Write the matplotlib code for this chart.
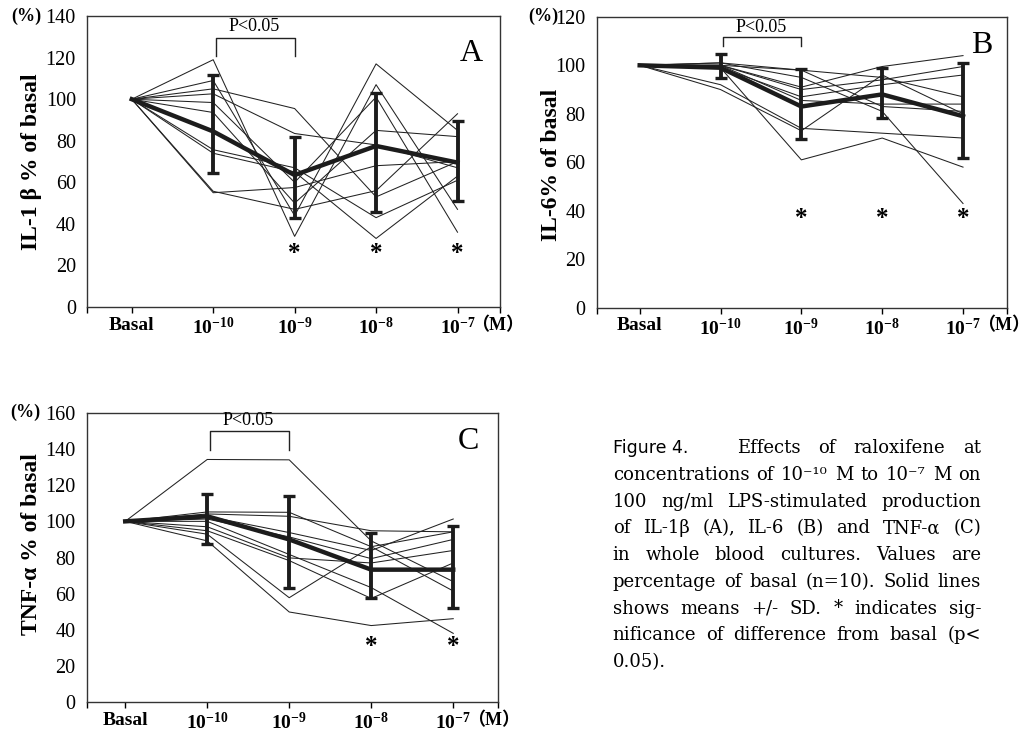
import matplotlib
matplotlib.use('Agg')
import matplotlib.pyplot as plt

plt.rcParams['font.family'] = ['Liberation Serif', 'Noto Sans CJK JP']
plt.rcParams['mathtext.fontset'] = 'custom'
plt.rcParams['mathtext.rm'] = 'Liberation Serif'
plt.rcParams['mathtext.bf'] = 'Liberation Serif:bold'
plt.rcParams['mathtext.it'] = 'Liberation Serif:italic'

doses = ['Basal', r'$\mathbf{10^{-10}}$', r'$\mathbf{10^{-9}}$',
         r'$\mathbf{10^{-8}}$', r'$\mathbf{10^{-7}}$']

# A: IL-1 beta, % of basal, one row per subject
il1_lines = [
    [100, 119, 34, 107, 47],
    [100, 109, 44, 117, 85],
    [100, 105, 95.5, 53, 70],
    [100, 102.6, 83.5, 78, 67],
    [100, 98.4, 60, 101, 36],
    [100, 93.6, 50, 85, 82],
    [100, 75.7, 67, 43, 61],
    [100, 74, 65, 33, 63],
    [100, 55.7, 47, 56, 93],
    [100, 55, 57.5, 68, 70],
]
il1_mean = [100, 84.5, 63.5, 77.5, 69.5]
il1_sd_top = [111.7, 81.6, 103.2, 89.3]
il1_sd_bot = [64.5, 42.9, 45.8, 50.9]

# B: IL-6
il6_lines = [
    [100, 99, 61, 70, 58],
    [100, 92, 74, 72, 70],
    [100, 90, 73, 96, 80],
    [100, 101, 98, 95, 87],
    [100, 101, 95, 81, 43],
    [100, 100, 91, 99.5, 104],
    [100, 100, 90, 94, 99.5],
    [100, 99, 87, 92, 96],
    [100, 100, 85.5, 84, 84],
    [100, 100, 98, 83, 81],
]
il6_mean = [100, 99, 83, 88, 79]
il6_sd_top = [104.5, 98.4, 99, 101]
il6_sd_bot = [94.9, 69.5, 78.2, 61.7]

# C: TNF-alpha
tnf_lines = [
    [100, 134.2, 134, 89.2, 66.7],
    [100, 105.2, 105, 86, 61.5],
    [100, 104.1, 102.8, 94.8, 94.2],
    [100, 102.8, 93.8, 83.9, 101.3],
    [100, 101.3, 91.4, 79.4, 90],
    [100, 100, 81.7, 63.4, 38.1],
    [100, 97, 79.8, 77, 83.9],
    [100, 94.8, 78.3, 57.4, 77],
    [100, 92.9, 57.8, 86, 94.2],
    [100, 89.2, 49.9, 42.4, 46.2],
]
tnf_mean = [100, 102.8, 90, 73.3, 73.3]
tnf_sd_top = [115.3, 113.8, 93.8, 97.6]
tnf_sd_bot = [87.3, 63, 57.9, 52.3]

caption_head = 'Effects of raloxifene at'
caption = [
    'concentrations of 10\u207b\u00b9\u2070 M to 10\u207b\u2077 M on',
    '100 ng/ml LPS-stimulated production',
    'of IL-1\u03b2 (A), IL-6 (B) and TNF-\u03b1 (C)',
    'in whole blood cultures. Values are',
    'percentage of basal (n=10). Solid lines',
    'shows means +/- SD. * indicates sig-',
    'nificance of difference from basal (p<',
    '0.05).',
]

ink = '#1c1c1c'
W, H = 1022, 731


def draw_panel(ax, lines, mean, sd_top, sd_bot, ymax, xlim, ylabel, letter,
               stars, star_y, br, lab_x, lab_y, pct_x, letter_pos):
    x = list(range(len(doses)))
    for vals in lines:
        ax.plot(x, vals, color='#222222', lw=0.75)
    ax.plot(x, mean, color=ink, lw=3.2)
    lo = [m - b for m, b in zip(mean[1:], sd_bot)]
    hi = [t - m for m, t in zip(mean[1:], sd_top)]
    ax.errorbar(x[1:], mean[1:], yerr=[lo, hi], fmt='none', ecolor=ink,
                elinewidth=2.8, capsize=4.5, capthick=2.4)

    ax.set_xlim(*xlim)
    ax.set_ylim(0, ymax)
    ax.set_yticks(range(0, ymax + 1, 20))
    ax.set_xticks(x)
    ax.set_xticklabels(doses, fontsize=14, fontweight='bold')
    ax.set_xticks(list(xlim), minor=True)
    ax.tick_params(axis='y', length=0, pad=8, labelsize=14.5)
    ax.tick_params(axis='x', which='both', direction='out', length=4,
                   width=1, pad=3)
    for sp in ax.spines.values():
        sp.set_color('#333333')
        sp.set_linewidth(1)

    ax.set_ylabel(ylabel, fontsize=17, fontweight='bold')
    ax.yaxis.set_label_coords(lab_x, lab_y)
    ax.text(pct_x, 1.0, '(%)', transform=ax.transAxes, ha='right',
            va='center', fontsize=13, fontweight='bold')
    ax.text(letter_pos[0], letter_pos[1], letter, transform=ax.transAxes,
            ha='center', va='center', fontsize=23)

    for i in stars:
        ax.text(i, star_y, '*', ha='center', va='center', fontsize=18,
                fontweight='bold')

    # P<0.05 bracket between 10^-10 and 10^-9
    ax.plot([1.03, 1.03, 2.0, 2.0], [br[0], br[1], br[1], br[0]],
            color='#222222', lw=1)
    ax.text(1.5, br[2], 'P<0.05', ha='center', va='center', fontsize=13)

    ax.annotate('\uff08M\uff09', xy=(4, 0), xycoords=('data', 'axes fraction'),
                xytext=(10, -13), textcoords='offset points', ha='left',
                va='center', fontsize=13, fontweight='bold')


fig = plt.figure(figsize=(10.22, 7.31), dpi=100)
ax_a = fig.add_axes([0.0851, 0.580, 0.404, 0.398])
ax_b = fig.add_axes([0.584, 0.579, 0.401, 0.398])
ax_c = fig.add_axes([0.0848, 0.0393, 0.402, 0.396])

draw_panel(ax_a, il1_lines, il1_mean, il1_sd_top, il1_sd_bot, 140,
           (-0.55, 4.52), 'IL-1 \u03b2 % of basal', 'A', [2, 3, 4], 25.8,
           (120.8, 129.6, 134.9), -0.109, 0.5, -0.11, (0.93, 0.87))
draw_panel(ax_b, il6_lines, il6_mean, il6_sd_top, il6_sd_bot, 120,
           (-0.53, 4.54), 'IL-6% of basal', 'B', [2, 3, 4], 37,
           (108, 111.7, 115.5), -0.085, 0.49, -0.095, (0.94, 0.9))
draw_panel(ax_c, tnf_lines, tnf_mean, tnf_sd_top, tnf_sd_bot, 160,
           (-0.47, 4.54), 'TNF-\u03b1 % of basal', 'C', [3, 4], 31,
           (139.6, 150, 155.5), -0.109, 0.545, -0.112, (0.93, 0.9))

# caption, justified between pixel columns
x_left, x_right = 612.7, 981
renderer = fig.canvas.get_renderer()
cap_kw = dict(va='center', fontsize=13, family='DejaVu Serif')


def justify(line, y_px, x0, x1):
    words = line.split(' ')
    y = 1 - y_px / H
    texts = [fig.text(0, y, w, ha='left', **cap_kw) for w in words]
    widths = [t.get_window_extent(renderer).width for t in texts]
    gap = (x1 - x0 - sum(widths)) / (len(words) - 1)
    xp = x0
    for t, w in zip(texts, widths):
        t.set_x(xp / W)
        xp += w + gap


fig.text(x_left / W, 1 - 448.3 / H, 'Figure 4.', ha='left', va='center',
         fontsize=12.5, family='DejaVu Sans')
justify(caption_head, 448.3, 737, x_right)
for k, line in enumerate(caption):
    y_px = 475 + 26.7 * k
    if k == len(caption) - 1:
        fig.text(x_left / W, 1 - y_px / H, line, ha='left', **cap_kw)
    else:
        justify(line, y_px, x_left, x_right)

fig.savefig('out.png', dpi=100)
